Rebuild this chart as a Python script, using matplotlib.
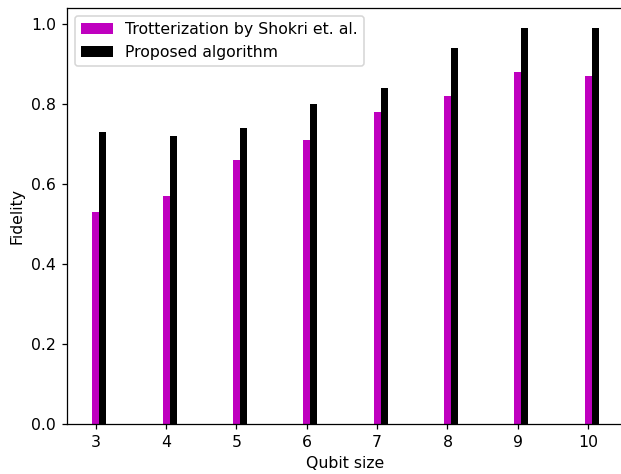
import numpy as np
import matplotlib
matplotlib.use("Agg")
import matplotlib.pyplot as plt

qubits = [3, 4, 5, 6, 7, 8, 9, 10]
trotter = [0.53, 0.57, 0.66, 0.71, 0.78, 0.82, 0.88, 0.87]
proposed = [0.73, 0.72, 0.74, 0.80, 0.84, 0.94, 0.99, 0.99]

DPI = 113

def main():
    fig = plt.figure(figsize=(621 / DPI, 474 / DPI), dpi=DPI)
    # axes run past the right edge of the image, as in the reference
    ax = fig.add_axes([67 / 621, (474 - 424) / 474, 557 / 621, 416 / 474])

    x = np.array(qubits)
    width = 0.1
    ax.bar(x, trotter, width, color='m', label="Trotterization by Shokri et. al.")
    ax.bar(x + width, proposed, width, color='k', label="Proposed algorithm")

    ax.set_xticks(x)
    ax.set_xlabel("Qubit size")
    ax.set_ylabel("Fidelity")
    ax.legend(loc="upper left")
    # right spine is cut off in the reference image
    ax.spines['right'].set_visible(False)

    fig.savefig("out.png", dpi=DPI)

if __name__ == "__main__":
    main()
